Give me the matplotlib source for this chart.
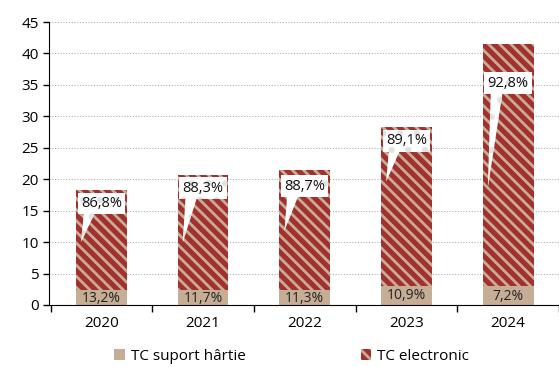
import numpy as np
import matplotlib.pyplot as plt

plt.rcParams['font.family'] = ['Open Sans', 'DejaVu Sans']
plt.rcParams['hatch.linewidth'] = 2.0

# Data
years = ["2020", "2021", "2022", "2023", "2024"]
paper = [2.4, 2.4, 2.4, 3.1, 3.0]
electronic = [15.9, 18.3, 19.1, 25.2, 38.5]
paper_lbl = ["13,2%", "11,7%", "11,3%", "10,9%", "7,2%"]
elec_lbl = ["86,8%", "88,3%", "88,7%", "89,1%", "92,8%"]

# callout placement (label y, tip y) in data units
label_y = [16.1, 18.6, 18.9, 26.1, 35.3]
tip_y = [10.0, 9.9, 11.8, 19.6, 18.6]

red = "#a3302e"
tan = "#c6ad95"

fig = plt.figure(figsize=(5.59, 3.67), dpi=100)
ax = fig.add_axes([49 / 559, 1 - 305 / 367, 1 - 49 / 559, (305 - 22) / 367])

x = np.arange(len(years))
w = 0.5
ax.bar(x, paper, w, color=tan, lw=0, zorder=2, label="TC suport hârtie")
ax.bar(x, electronic, w, bottom=paper, facecolor=red, edgecolor=tan,
       hatch="\\\\\\", lw=0, zorder=2, label="TC electronic")

for i in range(len(years)):
    ax.text(x[i], paper[i] / 2 - 0.1, paper_lbl[i], ha="center", va="center",
            fontsize=10, color="#222222", zorder=5)
    # wedge of the callout
    ax.fill([x[i] - 0.17, x[i] - 0.05, x[i] - 0.2],
            [label_y[i] - 1.0, label_y[i] - 1.0, tip_y[i]],
            facecolor="white", edgecolor="#e2e2e2", hatch=".", lw=0, zorder=3)
    ax.text(x[i], label_y[i], elec_lbl[i], ha="center", va="center",
            fontsize=10.5, color="#111111", zorder=4,
            bbox=dict(boxstyle="square,pad=0.22", facecolor="white",
                      edgecolor="#e2e2e2", hatch=".", lw=0))

ax.set_xlim(-0.515, 4.437)
ax.set_ylim(0, 45)
ax.set_yticks(np.arange(0, 46, 5))
ax.set_xticks(x)
ax.set_xticklabels(years)
ax.set_xticks(np.arange(-0.5, 4.6, 1), minor=True)
ax.tick_params(axis="x", which="major", length=0, pad=8, labelsize=11)
ax.tick_params(axis="x", which="minor", length=5, direction="out", width=1)
ax.tick_params(axis="y", length=4, direction="out", labelsize=11, width=1)
ax.yaxis.grid(True, color="#b0b0b0", linestyle=(0, (1, 1.5)), lw=0.8)
ax.set_axisbelow(True)
for s in ["top", "right"]:
    ax.spines[s].set_visible(False)
ax.spines["left"].set_color("black")
ax.spines["bottom"].set_color("black")

fig.legend(loc="lower left", bbox_to_anchor=(0.18, -0.028), ncol=2,
           frameon=False, fontsize=11, handlelength=0.7, handleheight=0.7,
           handletextpad=0.4, columnspacing=7.5)

fig.savefig("out.png", dpi=100)
